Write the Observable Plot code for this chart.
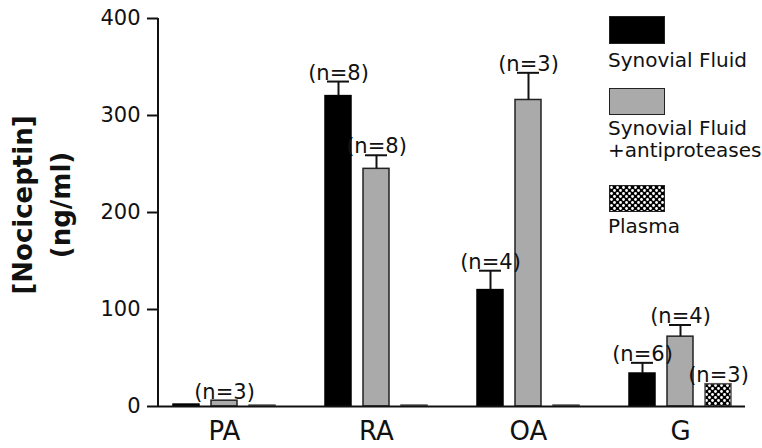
<!DOCTYPE html>
<html>
<head>
<meta charset="utf-8">
<script src="https://cdn.jsdelivr.net/npm/d3@7"></script>
<script src="https://cdn.jsdelivr.net/npm/@observablehq/plot@0.6"></script>
<style>
  html, body { margin: 0; padding: 0; background: #fff; }
  #wrap { position: relative; width: 762px; height: 448px; font-family: "DejaVu Sans", sans-serif; color: #111; }
  #ylab { position: absolute; left: 42px; top: 205px; transform: translate(-50%, -50%) rotate(-90deg);
          font-weight: bold; font-size: 26px; line-height: 38px; text-align: center; white-space: nowrap; }
  .sw { position: absolute; left: 609px; width: 56px; box-sizing: border-box; border: 1.5px solid #222; }
  .lt { position: absolute; left: 608px; font-size: 20px; line-height: 22px; white-space: nowrap; }
</style>
</head>
<body>
<div id="wrap">
  <div id="chart"></div>
  <div id="ylab">[Nociceptin]<br>(ng/ml)</div>
  <div class="sw" style="top:16px;height:28px;background:#000;"></div>
  <div class="lt" style="top:49px;">Synovial Fluid</div>
  <div class="sw" style="top:88px;height:27px;background:#aaa;"></div>
  <div class="lt" style="top:117px;">Synovial Fluid<br>+antiproteases</div>
  <svg class="sw" style="top:185px;height:27px;padding:0;" width="56" height="27">
    <defs>
      <pattern id="hatchLegend" width="6" height="6" patternUnits="userSpaceOnUse">
        <rect width="6" height="6" fill="#000"></rect>
        <circle cx="1.5" cy="1.5" r="1.4" fill="#fff"></circle>
        <circle cx="4.5" cy="4.5" r="1.4" fill="#fff"></circle>
      </pattern>
    </defs>
    <rect width="56" height="27" fill="url(#hatchLegend)"></rect>
  </svg>
  <div class="lt" style="top:215px;">Plasma</div>
</div>
<script>
// ---- data ----
const categories = ["PA", "RA", "OA", "G"];
const series = ["Synovial Fluid", "Synovial Fluid +antiproteases", "Plasma"];
const sfValues = [2, 320, 120, 34];
const sfErrors = [0, 15, 20, 11];
const sfN = [null, 8, 4, 6];
const sfaValues = [6, 245, 316, 72];
const sfaErrors = [0, 14, 28, 12];
const sfaN = [3, 8, 3, 4];
const plasmaValues = [1, 1, 1, 23];
const plasmaErrors = [0, 0, 0, 0];
const plasmaN = [null, null, null, 3];
const yTicks = [0, 100, 200, 300, 400];

// ---- build table ----
const valuesBySeries = [sfValues, sfaValues, plasmaValues];
const errorsBySeries = [sfErrors, sfaErrors, plasmaErrors];
const nBySeries = [sfN, sfaN, plasmaN];
const rows = [];
const keys = [];
categories.forEach((c, ci) => {
  series.forEach((s, si) => {
    const key = c + "|" + si;
    keys.push(key);
    rows.push({key, cat: c, s: si, value: valuesBySeries[si][ci], err: errorsBySeries[si][ci], n: nBySeries[si][ci]});
  });
  if (ci < categories.length - 1) keys.push("gap" + ci);
});
const centerKeys = categories.map(c => c + "|1");
const errRows = rows.filter(d => d.err > 0);
const labelRows = rows.filter(d => d.n != null);

const chart = Plot.plot({
  width: 762,
  height: 448,
  marginLeft: 158,
  marginRight: 17,
  marginTop: 18,
  marginBottom: 42,
  style: {fontFamily: "DejaVu Sans, sans-serif", fontSize: "21px", color: "#111", background: "white"},
  x: {domain: keys, paddingInner: 12 / 38, paddingOuter: 0.38, axis: null},
  y: {domain: [0, 400], axis: null},
  marks: [
    Plot.barY(rows.filter(d => d.s === 0), {x: "key", y: "value", fill: "#000", stroke: "#000", strokeWidth: 1.5}),
    Plot.barY(rows.filter(d => d.s === 1), {x: "key", y: "value", fill: "#aaa", stroke: "#222", strokeWidth: 1.5}),
    Plot.barY(rows.filter(d => d.s === 2), {x: "key", y: "value", fill: "url(#hatchPlot)", stroke: "#555", strokeWidth: 1.5}),
    Plot.ruleX(errRows, {x: "key", y1: "value", y2: d => d.value + d.err, stroke: "#111", strokeWidth: 2}),
    Plot.tickY(errRows, {x: "key", y: d => d.value + d.err, stroke: "#111", strokeWidth: 2, insetLeft: 2, insetRight: 2}),
    Plot.text(labelRows, {x: "key", y: d => d.value + d.err, text: d => `(n=${d.n})`, lineAnchor: "bottom", dy: -2, fontSize: 21, fill: "#111"}),
    Plot.ruleY([0], {stroke: "#111", strokeWidth: 2}),
    Plot.axisY({ticks: yTicks, tickSize: 11, tickPadding: 7, label: null, fontSize: 21, strokeWidth: 2, stroke: "#111"}),
    Plot.axisX(centerKeys, {tickSize: 0, tickPadding: 15, tickFormat: k => k.split("|")[0], fontSize: 26, label: null})
  ]
});

// pattern definition + y-axis line (position from the plot's own scale)
const svg = d3.select(chart);
const pat = svg.insert("defs", ":first-child").append("pattern")
  .attr("id", "hatchPlot").attr("width", 6).attr("height", 6)
  .attr("patternUnits", "userSpaceOnUse");
pat.append("rect").attr("width", 6).attr("height", 6).attr("fill", "#000");
pat.append("circle").attr("cx", 1.5).attr("cy", 1.5).attr("r", 1.4).attr("fill", "#fff");
pat.append("circle").attr("cx", 4.5).attr("cy", 4.5).attr("r", 1.4).attr("fill", "#fff");
const ys = chart.scale("y");
svg.append("line")
  .attr("x1", 158).attr("x2", 158)
  .attr("y1", ys.apply(0)).attr("y2", ys.apply(400))
  .attr("stroke", "#111").attr("stroke-width", 2);

document.getElementById("chart").appendChild(chart);
</script>
</body>
</html>
